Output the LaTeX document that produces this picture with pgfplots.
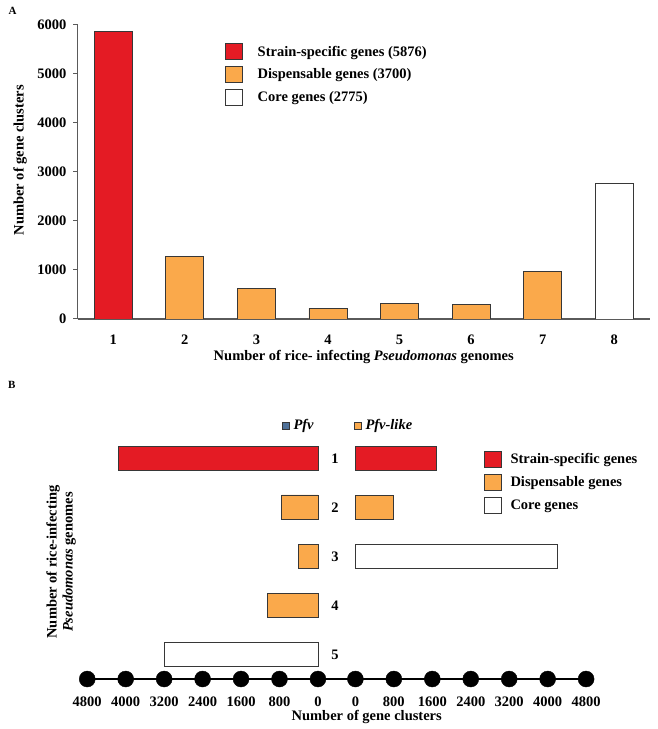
\documentclass[border=0pt]{standalone}
\usepackage{fontspec}
\setmainfont{Liberation Serif}
\usepackage{pgfplots}
\pgfplotsset{compat=1.18}

\definecolor{ssred}{RGB}{228,27,36}
\definecolor{dispor}{RGB}{250,169,75}
\definecolor{pfvblue}{RGB}{79,113,153}
\definecolor{edge}{RGB}{55,55,55}
\definecolor{axgray}{RGB}{90,90,90}

\newcommand{\fs}{\bfseries\fontsize{14.5}{17}\selectfont}

\pgfplotsset{
  sqlegend/.style={legend image code/.code={\draw[##1] (0pt,-8pt) rectangle (17pt,8pt);}},
  sqsmall/.style={legend image code/.code={\draw[##1] (0pt,-3.5pt) rectangle (7pt,3.5pt);}},
  vbar/.style={ybar, bar width=38pt, bar shift=0pt, draw=edge, line width=0.8pt},
  hbar/.style={xbar, bar width=24.7pt, bar shift=0pt, draw=edge, line width=0.8pt, forget plot},
  panelB/.style={
    scale only axis, width=230.7pt, height=245.25pt,
    xmin=0, xmax=4800, ymin=0.5, ymax=5.5,
    axis x line=bottom, axis y line=left,
    x axis line style={-, line width=1.5pt, black},
    y axis line style={draw=none},
    xtick={0,800,...,4800},
    tick style={draw=none},
    tick label style={font=\fs},
    /pgf/number format/assume math mode=true,
    /pgf/number format/1000 sep={},
    scaled ticks=false,
    xticklabel style={yshift=-12pt},
    clip=false,
    legend style={draw=none, fill=none, inner sep=0pt, font=\fs,
      column sep=3pt, nodes={inner sep=1pt}},
    legend cell align=left,
  },
}

\begin{document}
\begin{tikzpicture}
\useasboundingbox (0,0) rectangle (658pt,729pt);

% ---------------- panel A ----------------
\begin{axis}[
  at={(363.75pt,557pt)}, anchor=center,
  scale only axis, width=572.5pt, height=294pt,
  xmin=0.5, xmax=8.5, ymin=0, ymax=6000,
  axis x line=bottom, axis y line=left,
  axis line style={-, draw=axgray, line width=1.1pt},
  xtick={1,...,8}, ytick={0,1000,...,6000},
  xtick style={draw=none},
  ytick style={draw=axgray, line width=1pt},
  tick align=outside, major tick length=4.5pt,
  tick label style={font=\fs},
  yticklabel style={xshift=-3pt},
  /pgf/number format/assume math mode=true,
  /pgf/number format/1000 sep={},
  scaled ticks=false,
  xticklabel style={yshift=-8pt},
  xlabel={Number of rice- infecting \textit{Pseudomonas} genomes},
  xlabel style={at={(axis description cs:0.5,-0.1293)}, anchor=center, font=\fs},
  ylabel={Number of gene clusters},
  ylabel style={at={(axis description cs:-0.1004,0.54)}, anchor=center, font=\fs},
  legend style={at={(axis description cs:0.2571,0.9378)}, anchor=north west,
    draw=none, fill=none, inner sep=0pt, font=\fs,
    row sep=5.8pt, column sep=14pt, nodes={inner sep=1pt}},
  legend cell align=left,
]
\addplot[vbar, fill=ssred, sqlegend] coordinates {(1,5876)};
\addplot[vbar, fill=dispor, sqlegend] coordinates {(2,1270) (3,615) (4,215) (5,325) (6,300) (7,975)};
\addplot[vbar, fill=white, sqlegend] coordinates {(8,2775)};
\legend{Strain-specific genes (5876), Dispensable genes (3700), Core genes (2775)}
\end{axis}

% ---------------- panel B, Pfv (left, reversed) ----------------
\begin{axis}[panelB,
  at={(202.6pt,172.6pt)}, anchor=center,
  x dir=reverse,
  ytick={1,...,5}, yticklabels={5,4,3,2,1},
  yticklabel style={anchor=center, xshift=250pt},
  legend style={at={(axis description cs:0.844,1.0336)}, anchor=west},
]
\addplot[hbar, fill=ssred] coordinates {(4155,5)};
\addplot[hbar, fill=dispor] coordinates {(755,4) (400,3) (1060,2)};
\addplot[hbar, fill=white] coordinates {(3200,1)};
\addplot[only marks, mark=*, mark size=8pt, black, forget plot]
  coordinates {(0,0.5) (800,0.5) (1600,0.5) (2400,0.5) (3200,0.5) (4000,0.5) (4800,0.5)};
\addlegendimage{fill=pfvblue, draw=edge, sqsmall}
\addlegendentry{\textit{Pfv}}
\end{axis}

% ---------------- panel B, Pfv-like (right) ----------------
\begin{axis}[panelB,
  at={(470.75pt,172.6pt)}, anchor=center,
  x axis line style={shorten <=-37.5pt},
  ytick=\empty,
  legend style={at={(axis description cs:-0.0065,1.0336)}, anchor=west},
]
\addplot[hbar, fill=ssred] coordinates {(1690,5)};
\addplot[hbar, fill=dispor] coordinates {(800,4)};
\addplot[hbar, fill=white] coordinates {(4210,3)};
\addplot[only marks, mark=*, mark size=8pt, black, forget plot]
  coordinates {(0,0.5) (800,0.5) (1600,0.5) (2400,0.5) (3200,0.5) (4000,0.5) (4800,0.5)};
\addlegendimage{fill=dispor, draw=edge, sqsmall}
\addlegendentry{\textit{Pfv-like}}
\end{axis}

% ---------------- panel B category legend ----------------
\begin{axis}[
  at={(470.75pt,172.6pt)}, anchor=center,
  scale only axis, width=230.7pt, height=245.25pt,
  xmin=0, xmax=1, ymin=0, ymax=1, hide axis,
  legend style={at={(axis description cs:0.5575,0.9297)}, anchor=north west,
    draw=none, fill=none, inner sep=0pt, font=\fs,
    row sep=6pt, column sep=7.5pt, nodes={inner sep=1pt}},
  legend cell align=left,
]
\addlegendimage{fill=ssred, draw=edge, line width=0.8pt, sqlegend}
\addlegendimage{fill=dispor, draw=edge, line width=0.8pt, sqlegend}
\addlegendimage{fill=white, draw=edge, line width=0.8pt, sqlegend}
\legend{Strain-specific genes, Dispensable genes, Core genes}
\end{axis}

\node[font=\bfseries\fontsize{11}{13}\selectfont] at (12.7pt,718pt) {A};
\node[font=\bfseries\fontsize{11}{13}\selectfont] at (11.7pt,344pt) {B};
\node[font=\fs] at (366.7pt,11.7pt) {Number of gene clusters};
\node[font=\bfseries\fontsize{14.5}{16}\selectfont, rotate=90, align=center]
  at (61pt,167pt) {Number of rice-infecting\\\textit{Pseudomonas} genomes};
\end{tikzpicture}
\end{document}
